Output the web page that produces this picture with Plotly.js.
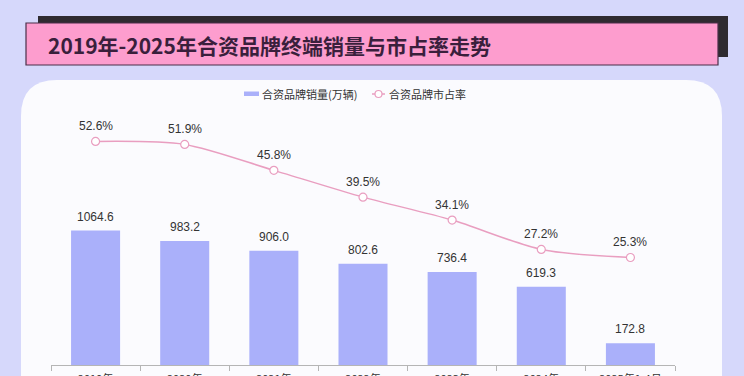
<!DOCTYPE html>
<html>
<head>
<meta charset="utf-8">
<script src="https://cdn.plot.ly/plotly-3.0.1.min.js"></script>
<style>
  html, body { margin: 0; padding: 0; background: #d6d8fb; }
  #chart { width: 744px; height: 376px; }
</style>
</head>
<body>
<div id="chart"></div>
<script>
// ---- data ----
const categories = ["2019年", "2020年", "2021年", "2022年", "2023年", "2024年", "2025年1-4月"];
const salesValues = [1064.6, 983.2, 906.0, 802.6, 736.4, 619.3, 172.8];   // 合资品牌销量(万辆)
const shareValues = [52.6, 51.9, 45.8, 39.5, 34.1, 27.2, 25.3];           // 合资品牌市占率 (%)
const titleText = "2019年-2025年合资品牌终端销量与市占率走势";
const salesName = "合资品牌销量(万辆)";
const shareName = "合资品牌市占率";

// ---- geometry helpers (pixel -> paper) ----
const W = 744, H = 376;
const M = { l: 51, r: 69, t: 110, b: 11 };
const PW = W - M.l - M.r, PH = H - M.t - M.b;
const X = px => (px - M.l) / PW;
const Y = py => (H - M.b - py) / PH;

const barColor = "#aab0fa";
const lineColor = "#e99ec0";
const textColor = "#333333";
const fontFam = "Liberation Sans, Arial, Noto Sans CJK SC, sans-serif";
const cjkFam = "Noto Sans CJK SC, Liberation Sans, sans-serif";

// card path with rounded top corners
const R = 36;
const cardL = 21, cardR = 722, cardT = 80, cardB = 430;
const cardPath =
  `M ${X(cardL)},${Y(cardB)} L ${X(cardL)},${Y(cardT + R)} ` +
  `Q ${X(cardL)},${Y(cardT)} ${X(cardL + R)},${Y(cardT)} ` +
  `L ${X(cardR - R)},${Y(cardT)} ` +
  `Q ${X(cardR)},${Y(cardT)} ${X(cardR)},${Y(cardT + R)} ` +
  `L ${X(cardR)},${Y(cardB)} Z`;

const shapes = [
  { type: "path", xref: "paper", yref: "paper", path: cardPath, fillcolor: "#fbfbfe", line: { width: 0 }, layer: "below" },
  { type: "rect", xref: "paper", yref: "paper", x0: X(38), x1: X(728), y0: Y(57), y1: Y(16), fillcolor: "#2f2b30", line: { width: 0 }, layer: "below" },
  { type: "rect", xref: "paper", yref: "paper", x0: X(26), x1: X(718), y0: Y(65), y1: Y(23), fillcolor: "#fd9dce", line: { width: 1.2, color: "#4a2f48" }, layer: "below" },
  // legend icons
  { type: "rect", xref: "paper", yref: "paper", x0: X(244), x1: X(259), y0: Y(96), y1: Y(91.5), fillcolor: barColor, line: { width: 0 } },
  { type: "line", xref: "paper", yref: "paper", x0: X(372), x1: X(385), y0: Y(94), y1: Y(94), line: { color: lineColor, width: 1.5 } },
  { type: "circle", xref: "paper", yref: "paper", x0: X(375), x1: X(382), y0: Y(97.5), y1: Y(90.5), fillcolor: "#ffffff", line: { color: lineColor, width: 1.2 } }
];

const annotations = [
  { xref: "paper", yref: "paper", x: X(46), y: Y(45), xanchor: "left", yanchor: "middle", showarrow: false,
    text: "<b>" + titleText + "</b>", font: { family: cjkFam, size: 21, color: "#3a1f3c" } },
  { xref: "paper", yref: "paper", x: X(260), y: Y(94), xanchor: "left", yanchor: "middle", showarrow: false,
    text: salesName, font: { family: cjkFam, size: 11, color: textColor } },
  { xref: "paper", yref: "paper", x: X(387), y: Y(94), xanchor: "left", yanchor: "middle", showarrow: false,
    text: shareName, font: { family: cjkFam, size: 11, color: textColor } }
];

// data labels (positioned through the axes)
categories.forEach((c, i) => {
  annotations.push({ xref: "x", yref: "y", x: c, y: salesValues[i], yanchor: "middle", yshift: 14, showarrow: false,
    text: salesValues[i].toFixed(1), font: { family: fontFam, size: 12, color: textColor } });
  annotations.push({ xref: "x", yref: "y2", x: c, y: shareValues[i], yanchor: "middle", yshift: 15, showarrow: false,
    text: shareValues[i].toFixed(1) + "%", font: { family: fontFam, size: 12, color: textColor } });
});

const traces = [
  { type: "bar", name: salesName, x: categories, y: salesValues, marker: { color: barColor }, width: 0.55,
    hoverinfo: "x+y" },
  { type: "scatter", mode: "lines+markers", name: shareName, x: categories, y: shareValues, yaxis: "y2",
    line: { color: lineColor, width: 1.5, shape: "spline", smoothing: 0.8 },
    marker: { symbol: "circle", size: 8, color: "#ffffff", line: { color: lineColor, width: 1.2 } } }
];

const layout = {
  width: W, height: H,
  margin: M,
  paper_bgcolor: "#d6d8fb",
  plot_bgcolor: "rgba(0,0,0,0)",
  showlegend: false,
  font: { family: fontFam, color: textColor },
  xaxis: {
    type: "category", showline: true, linecolor: "#b5b5b5", linewidth: 1,
    ticks: "outside", tickson: "boundaries", ticklen: 5, tickcolor: "#b5b5b5",
    ticklabelstandoff: 4,
    showgrid: false, zeroline: false, fixedrange: true,
    tickfont: { family: cjkFam, size: 11, color: textColor }
  },
  yaxis: { range: [0, 2020], visible: false, showgrid: false, zeroline: false, fixedrange: true },
  yaxis2: { range: [0, 60], overlaying: "y", side: "right", visible: false, showgrid: false, zeroline: false, fixedrange: true },
  shapes: shapes,
  annotations: annotations
};

Plotly.newPlot("chart", traces, layout, { displayModeBar: false, staticPlot: false });
</script>
</body>
</html>
